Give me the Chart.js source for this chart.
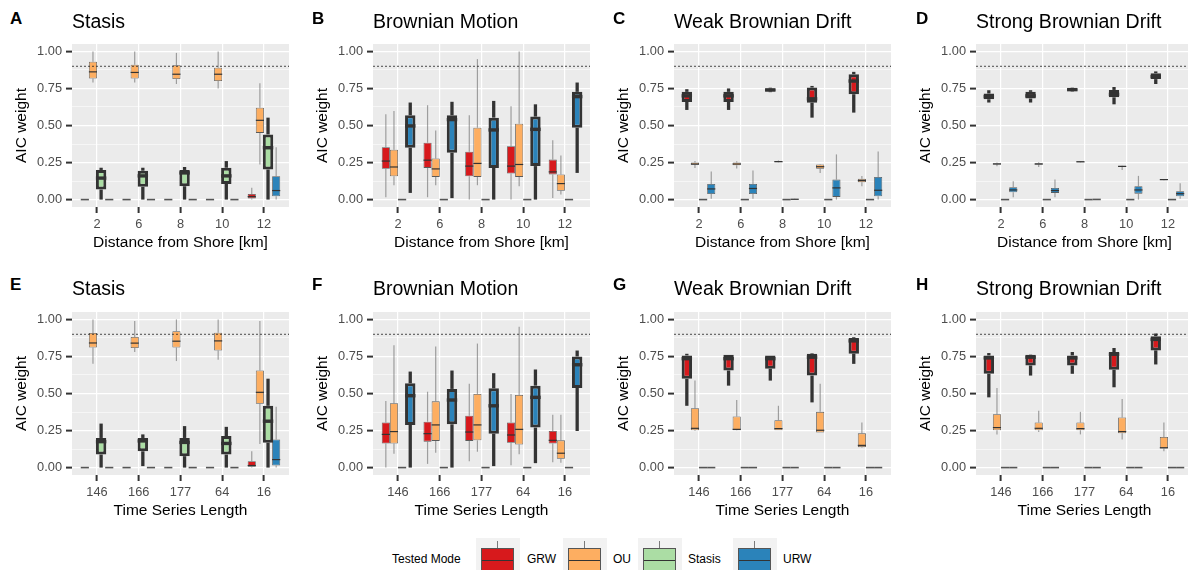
<!DOCTYPE html>
<html>
<head>
<meta charset="utf-8">
<script src="https://cdn.jsdelivr.net/npm/chart.js@4.4.1/dist/chart.umd.min.js"></script>
<style>
html,body{margin:0;padding:0;background:#fff;overflow:hidden;width:1188px;height:570px;}
body{position:relative;font-family:"Liberation Sans",Arial,sans-serif;}
canvas{position:absolute;}
.t{position:absolute;white-space:nowrap;color:#000;}
.key{position:absolute;top:538px;width:44px;height:40px;background:#F2F2F2;}
.key .wh{position:absolute;left:21px;top:3px;width:1px;height:7px;background:#7a7a7a;}
.key .bx{position:absolute;left:5px;top:9.7px;width:31px;height:28px;border:1px solid #555;}
.key .md{position:absolute;left:0;top:11px;width:31px;height:1px;background:#333;}
</style>
</head>
<body>
<script>
// ---------- categories / labels ----------
const distanceLabels = ['2', '6', '8', '10', '12'];
const lengthLabels = ['146', '166', '177', '64', '16'];
const modes = ['GRW', 'OU', 'Stasis', 'URW'];
const modeColors = ['#D7191C', '#FDAE61', '#ABDDA4', '#2B83BA'];
const yTickValues = [0, 0.125, 0.25, 0.375, 0.5, 0.625, 0.75, 0.875, 1];
const threshold = 0.9;

// ---------- box statistics: [min, q1, median, q3, max] per category ----------
// Panel A: Stasis vs distance
const A_GRW = [[0,0,0,0,0],[0,0,0,0,0],[0,0,0,0,0],[0,0,0,0,0],[0,0.008,0.02,0.038,0.08]];
const A_OU = [[0.79,0.817,0.862,0.93,1.0],[0.79,0.817,0.858,0.91,1.0],[0.78,0.813,0.846,0.907,0.99],[0.75,0.80,0.846,0.89,1.0],[0.237,0.45,0.535,0.62,0.785]];
const A_STASIS = [[0,0.068,0.145,0.2,0.215],[0,0.086,0.16,0.195,0.215],[0,0.09,0.18,0.2,0.22],[0,0.106,0.16,0.215,0.26],[0,0.203,0.35,0.44,0.553]];
const A_URW = [[0,0,0,0,0],[0,0,0,0,0],[0,0,0,0,0],[0,0,0,0,0],[0,0.023,0.061,0.158,0.354]];
// Panel B: Brownian Motion vs distance
const B_GRW = [[0.016,0.208,0.26,0.354,0.576],[0.016,0.214,0.266,0.384,0.637],[0,0.158,0.226,0.323,0.569],[0,0.176,0.226,0.36,0.63],[0.01,0.17,0.187,0.27,0.40]];
const B_OU = [[0.097,0.158,0.22,0.336,0.598],[0.097,0.153,0.207,0.278,0.467],[0.097,0.153,0.244,0.485,0.948],[0.09,0.153,0.237,0.512,1.0],[0.034,0.06,0.108,0.17,0.298]];
const B_STASIS = [[0,0,0,0,0],[0,0,0,0,0],[0,0,0,0,0],[0,0,0,0,0],[0,0,0,0,0]];
const B_URW = [[0.045,0.35,0.497,0.569,0.655],[0.01,0.316,0.54,0.569,0.66],[0,0.214,0.47,0.553,0.666],[0,0.226,0.474,0.56,0.643],[0.18,0.485,0.695,0.727,0.79]];
// Panel C: Weak Brownian Drift vs distance
const C_GRW = [[0.605,0.659,0.70,0.727,0.745],[0.605,0.659,0.70,0.727,0.75],[0.725,0.73,0.74,0.75,0.755],[0.553,0.654,0.68,0.756,0.767],[0.587,0.711,0.80,0.846,0.862]];
const C_OU = [[0.214,0.235,0.24,0.25,0.26],[0.21,0.232,0.24,0.25,0.258],[0.25,0.252,0.256,0.26,0.264],[0.18,0.208,0.222,0.237,0.24],[0.09,0.117,0.128,0.14,0.16]];
const C_STASIS = [[0,0,0,0,0],[0,0,0,0,0],[0,0,0,0,0],[0,0,0,0,0],[0,0,0,0,0]];
const C_URW = [[0.005,0.038,0.072,0.106,0.19],[0.005,0.038,0.075,0.106,0.196],[0,0,0.002,0.005,0.008],[0,0.018,0.079,0.135,0.305],[0,0.023,0.063,0.153,0.325]];
// Panel D: Strong Brownian Drift vs distance
const D_GRW = [[0.655,0.677,0.695,0.716,0.738],[0.655,0.682,0.70,0.727,0.738],[0.73,0.735,0.742,0.75,0.755],[0.643,0.69,0.71,0.74,0.76],[0.78,0.813,0.83,0.853,0.865]];
const D_OU = [[0.225,0.238,0.24,0.245,0.25],[0.22,0.236,0.24,0.245,0.252],[0.25,0.252,0.255,0.258,0.26],[0.2,0.22,0.224,0.228,0.23],[0.13,0.133,0.135,0.137,0.138]];
const D_STASIS = [[0,0,0,0,0],[0,0,0,0,0],[0,0,0,0,0],[0,0,0,0,0],[0,0,0,0,0]];
const D_URW = [[0.016,0.05,0.065,0.083,0.124],[0.015,0.045,0.061,0.079,0.135],[0,0,0.001,0.002,0.003],[0,0.04,0.065,0.09,0.16],[0.005,0.023,0.04,0.056,0.11]];
// Panel E: Stasis vs series length
const E_GRW = [[0,0,0,0,0],[0,0,0,0,0],[0,0,0,0,0],[0,0,0,0,0],[0,0.005,0.014,0.043,0.11]];
const E_OU = [[0.70,0.81,0.841,0.909,1.0],[0.78,0.807,0.84,0.882,0.99],[0.719,0.81,0.853,0.92,1.0],[0.728,0.79,0.855,0.91,1.0],[0.16,0.43,0.508,0.655,0.99]];
const E_STASIS = [[0,0.088,0.175,0.20,0.297],[0.01,0.11,0.18,0.20,0.224],[0,0.077,0.17,0.20,0.28],[0,0.088,0.163,0.213,0.275],[0,0.168,0.313,0.417,0.6]];
const E_URW = [[0,0,0,0,0],[0,0,0,0,0],[0,0,0,0,0],[0,0,0,0,0],[0,0.014,0.054,0.19,0.41]];
// Panel F: Brownian Motion vs series length
const F_GRW = [[0,0.163,0.224,0.304,0.45],[0.025,0.175,0.229,0.31,0.512],[0.043,0.18,0.24,0.35,0.565],[0.016,0.168,0.22,0.304,0.497],[0.036,0.163,0.184,0.247,0.356]];
const F_OU = [[0.093,0.163,0.243,0.435,0.825],[0.10,0.18,0.288,0.447,0.818],[0.107,0.184,0.288,0.497,0.837],[0.09,0.156,0.258,0.49,0.95],[0.032,0.059,0.097,0.184,0.356]];
const F_STASIS = [[0,0,0,0,0],[0,0,0,0,0],[0,0,0,0,0],[0,0,0,0,0],[0,0,0,0,0]];
const F_URW = [[0,0.288,0.485,0.569,0.648],[0,0.292,0.456,0.531,0.655],[0.01,0.229,0.417,0.535,0.637],[0.03,0.27,0.474,0.553,0.662],[0.247,0.537,0.694,0.75,0.79]];
// Panel G: Weak Brownian Drift vs series length
const G_GRW = [[0.417,0.599,0.735,0.757,0.768],[0.553,0.655,0.735,0.762,0.762],[0.587,0.667,0.735,0.757,0.757],[0.44,0.621,0.745,0.769,0.773],[0.70,0.769,0.855,0.875,0.88]];
const G_OU = [[0.247,0.252,0.265,0.401,0.587],[0.25,0.252,0.258,0.345,0.456],[0.252,0.252,0.263,0.32,0.417],[0.236,0.236,0.252,0.376,0.565],[0.134,0.138,0.15,0.231,0.304]];
const G_STASIS = [[0,0,0,0,0],[0,0,0,0,0],[0,0,0,0,0],[0,0,0,0,0],[0,0,0,0,0]];
const G_URW = [[0,0,0,0,0],[0,0,0,0,0],[0,0,0,0,0],[0,0,0,0,0],[0,0,0,0,0]];
// Panel H: Strong Brownian Drift vs series length
const H_GRW = [[0.474,0.633,0.74,0.757,0.773],[0.621,0.689,0.745,0.762,0.764],[0.633,0.689,0.74,0.757,0.78],[0.542,0.66,0.765,0.78,0.807],[0.696,0.791,0.865,0.887,0.905]];
const H_OU = [[0.224,0.252,0.27,0.36,0.537],[0.24,0.252,0.265,0.304,0.383],[0.224,0.252,0.263,0.304,0.376],[0.19,0.231,0.243,0.338,0.463],[0.11,0.129,0.134,0.206,0.304]];
const H_STASIS = [[0,0,0,0,0],[0,0,0,0,0],[0,0,0,0,0],[0,0,0,0,0],[0,0,0,0,0]];
const H_URW = [[0,0,0,0,0],[0,0,0,0,0],[0,0,0,0,0],[0,0,0,0,0],[0,0,0,0,0]];

const panels = [
  {letter:'A', title:'Stasis', cats:distanceLabels, xTitle:'Distance from Shore [km]', truth:'Stasis', series:[A_GRW,A_OU,A_STASIS,A_URW], col:0, row:0},
  {letter:'B', title:'Brownian Motion', cats:distanceLabels, xTitle:'Distance from Shore [km]', truth:'URW', series:[B_GRW,B_OU,B_STASIS,B_URW], col:1, row:0},
  {letter:'C', title:'Weak Brownian Drift', cats:distanceLabels, xTitle:'Distance from Shore [km]', truth:'GRW', series:[C_GRW,C_OU,C_STASIS,C_URW], col:2, row:0},
  {letter:'D', title:'Strong Brownian Drift', cats:distanceLabels, xTitle:'Distance from Shore [km]', truth:'GRW', series:[D_GRW,D_OU,D_STASIS,D_URW], col:3, row:0},
  {letter:'E', title:'Stasis', cats:lengthLabels, xTitle:'Time Series Length', truth:'Stasis', series:[E_GRW,E_OU,E_STASIS,E_URW], col:0, row:1},
  {letter:'F', title:'Brownian Motion', cats:lengthLabels, xTitle:'Time Series Length', truth:'URW', series:[F_GRW,F_OU,F_STASIS,F_URW], col:1, row:1},
  {letter:'G', title:'Weak Brownian Drift', cats:lengthLabels, xTitle:'Time Series Length', truth:'GRW', series:[G_GRW,G_OU,G_STASIS,G_URW], col:2, row:1},
  {letter:'H', title:'Strong Brownian Drift', cats:lengthLabels, xTitle:'Time Series Length', truth:'GRW', series:[H_GRW,H_OU,H_STASIS,H_URW], col:3, row:1}
];

// ---------- layout ----------
const FONT = "'Liberation Sans', Arial, Helvetica, sans-serif";
const plotLefts = [72, 373, 674, 976];
const plotW = 217;
const areaTops = [44, 312];
const areaH = 163;
const yAxisW = 72;
const xAxisH = 45;
const padTop = 14;
const padRight = 4;
const letterX = [10, 312, 613, 916];
const letterY = [18.5, 285];
const titleY = [20.8, 288.3];

function isMajor(v) { return Math.abs(v * 4 - Math.round(v * 4)) < 1e-6; }

const boxPlugin = {
  id: 'boxes',
  beforeDraw(chart) {
    const a = chart.chartArea, ctx = chart.ctx;
    ctx.save();
    ctx.fillStyle = '#EBEBEB';
    ctx.fillRect(a.left, a.top, a.right - a.left, a.bottom - a.top);
    ctx.restore();
  },
  afterDatasetsDraw(chart) {
    const ctx = chart.ctx, ys = chart.scales.y, a = chart.chartArea;
    const seg = (x1, y1, x2, y2) => { ctx.beginPath(); ctx.moveTo(x1, y1); ctx.lineTo(x2, y2); ctx.stroke(); };
    ctx.save();
    chart.data.datasets.forEach((ds, di) => {
      const meta = chart.getDatasetMeta(di);
      meta.data.forEach((el, i) => {
        const s = ds.stats[i];
        const x = el.x, w = el.width;
        ctx.lineCap = 'butt';
        ctx.strokeStyle = ds.thick ? '#333333' : 'rgba(105,105,105,0.6)';
        ctx.lineWidth = ds.thick ? 3.3 : 1.2;
        if (s[4] > s[3]) seg(x, ys.getPixelForValue(s[3]), x, ys.getPixelForValue(s[4]));
        if (s[1] > s[0]) seg(x, ys.getPixelForValue(s[1]), x, ys.getPixelForValue(s[0]));
        const ym = ys.getPixelForValue(s[2]);
        const flat = s[4] - s[0] < 0.004;
        if (ds.thick) { ctx.strokeStyle = '#333333'; ctx.lineWidth = 3.4; }
        else if (flat) { ctx.strokeStyle = '#555555'; ctx.lineWidth = 1.6; }
        else { ctx.strokeStyle = '#333333'; ctx.lineWidth = 1.2; }
        seg(x - w / 2, ym, x + w / 2, ym);
      });
    });
    const yt = ys.getPixelForValue(threshold);
    ctx.setLineDash([2, 2]);
    ctx.strokeStyle = '#222222';
    ctx.lineWidth = 0.8;
    seg(a.left, yt, a.right, yt);
    ctx.restore();
  }
};

panels.forEach(p => {
  const cv = document.createElement('canvas');
  const W = yAxisW + plotW + padRight, H = padTop + areaH + xAxisH;
  cv.width = W; cv.height = H;
  cv.style.left = (plotLefts[p.col] - yAxisW) + 'px';
  cv.style.top = (areaTops[p.row] - padTop) + 'px';
  cv.style.width = W + 'px'; cv.style.height = H + 'px';
  document.body.appendChild(cv);

  const lt = document.createElement('div');
  lt.className = 't';
  lt.textContent = p.letter;
  lt.style.cssText = `left:${letterX[p.col]}px;top:${letterY[p.row] - 10}px;height:20px;line-height:20px;font-size:17px;font-weight:bold;`;
  document.body.appendChild(lt);
  const tt = document.createElement('div');
  tt.className = 't';
  tt.textContent = p.title;
  tt.style.cssText = `left:${plotLefts[p.col]}px;top:${titleY[p.row] - 12}px;height:24px;line-height:24px;font-size:19.5px;`;
  document.body.appendChild(tt);

  new Chart(cv.getContext('2d'), {
    type: 'bar',
    data: {
      datasets: modes.map((m, k) => ({
        label: m,
        data: p.series[k].map((s, i) => ({ x: i + 1, y: [s[1], s[3]] })),
        stats: p.series[k],
        thick: m === p.truth,
        backgroundColor: modeColors[k],
        borderColor: m === p.truth ? '#333333' : '#5a5a5a',
        borderWidth: m === p.truth ? 3 : 0.8,
        borderSkipped: false,
        barPercentage: m === p.truth ? 1.28 : 1.0,
        categoryPercentage: 0.78
      }))
    },
    options: {
      responsive: false,
      animation: false,
      devicePixelRatio: 1,
      layout: { padding: { top: padTop, right: padRight, left: 0, bottom: 0 } },
      plugins: { legend: { display: false }, tooltip: { enabled: false }, title: { display: false } },
      scales: {
        x: {
          type: 'linear', min: 0.4, max: 5.6, offset: false,
          afterBuildTicks: s => { s.ticks = p.cats.map((c, i) => ({ value: i + 1 })); },
          afterFit: s => { s.height = xAxisH; },
          ticks: { callback: v => p.cats[Math.round(v) - 1], color: '#4D4D4D', font: { family: FONT, size: 12.8 }, padding: 4, maxRotation: 0, autoSkip: false },
          grid: { color: '#FFFFFF', lineWidth: 1.2, tickColor: '#333333', tickWidth: 2, tickLength: 6, drawTicks: true, offset: false },
          border: { display: false },
          title: { display: true, text: p.xTitle, color: '#000000', font: { family: FONT, size: 15.5 }, padding: { top: 0, bottom: 0 } }
        },
        y: {
          min: -0.05, max: 1.05,
          afterBuildTicks: s => { s.ticks = yTickValues.map(v => ({ value: v })); },
          afterFit: s => { s.width = yAxisW; },
          ticks: { callback: v => isMajor(v) ? v.toFixed(2) : '', color: '#4D4D4D', font: { family: FONT, size: 12.8 }, padding: 4, autoSkip: false },
          grid: {
            color: '#FFFFFF',
            lineWidth: c => isMajor(c.tick.value) ? 1.2 : 0.55,
            tickColor: c => isMajor(c.tick.value) ? '#333333' : 'rgba(0,0,0,0)',
            tickWidth: 2, tickLength: 6, drawTicks: true
          },
          border: { display: false },
          title: { display: true, text: 'AIC weight', color: '#000000', font: { family: FONT, size: 15.5 }, padding: { top: 12.5, bottom: 0 } }
        }
      }
    },
    plugins: [boxPlugin]
  });
});

// ---------- legend ----------
const legendKeyLefts = [476, 563, 638, 733];
const legendTextLefts = [527, 613, 688, 783];
const lg = document.createElement('div');
lg.className = 't';
lg.textContent = 'Tested Mode';
lg.style.cssText = 'left:392px;top:550.3px;height:18px;line-height:18px;font-size:12px;';
document.body.appendChild(lg);
modes.forEach((m, k) => {
  const key = document.createElement('div');
  key.className = 'key';
  key.style.left = legendKeyLefts[k] + 'px';
  key.innerHTML = `<div class="wh"></div><div class="bx" style="background:${modeColors[k]}"><div class="md"></div></div>`;
  document.body.appendChild(key);
  const tx = document.createElement('div');
  tx.className = 't';
  tx.textContent = m;
  tx.style.cssText = `left:${legendTextLefts[k]}px;top:550.3px;height:18px;line-height:18px;font-size:12px;`;
  document.body.appendChild(tx);
});
</script>
</body>
</html>
